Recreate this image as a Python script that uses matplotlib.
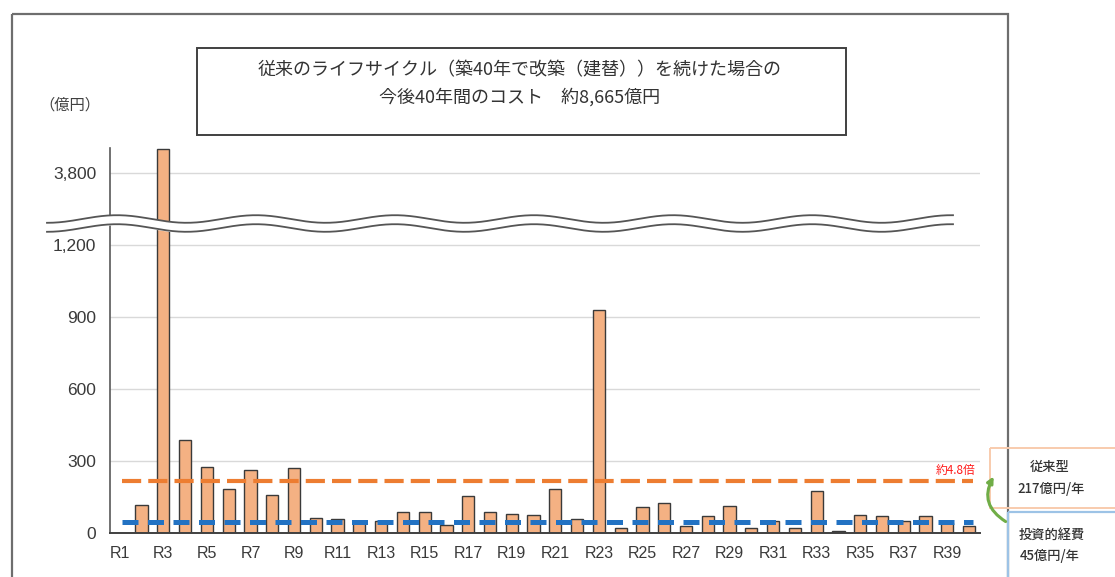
import matplotlib
matplotlib.use("Agg")
import numpy as np
import matplotlib.pyplot as plt
from matplotlib.patches import Rectangle, FancyArrowPatch

plt.rcParams['font.family'] = ['Noto Sans CJK JP', 'DejaVu Sans']

# 年度別の更新費用（億円）
years = [f"R{i}" for i in range(1, 41)]
costs = [0, 118, 3900, 388, 276, 186, 262, 161, 273, 64,
         59, 50, 50, 87, 87, 34, 157, 87, 81, 76,
         186, 60, 930, 21, 109, 126, 31, 70, 112, 21,
         50, 21, 178, 11, 76, 70, 50, 70, 42, 31]
avg_conventional = 217   # 従来型 億円/年
avg_investment = 45      # 投資的経費 億円/年

tick_values = [0, 300, 600, 900, 1200, 3800]
tick_labels = ["0", "300", "600", "900", "1,200", "3,800"]

BREAK_LO, BREAK_HI = 1300, 3600   # 省略区間


def squash(v):
    # 省略区間より上は区間の幅だけ下へずらす
    v = np.asarray(v, dtype=float)
    return np.where(v > BREAK_LO, v - (BREAK_HI - BREAK_LO), v)


W, H = 1115, 577
fig = plt.figure(figsize=(W / 100, H / 100), dpi=100)

ax = fig.add_axes([110 / W, 1 - 533.3 / H, 870 / W, (533.3 - 148) / H])
x = np.arange(len(years))
ax.bar(x, squash(costs), width=0.56, color="#f4b183",
       edgecolor="#3a3a3a", linewidth=1.0, zorder=2)

ax.hlines(avg_conventional, 0.1, 39.2, color="#ed7d31", linewidth=3,
          linestyles=(0, (4.6, 1.7)), zorder=3)
ax.hlines(avg_investment, 0.1, 39.2, color="#2272c3", linewidth=3.6,
          linestyles=(0, (3.2, 1.9)), zorder=3)

ax.set_xlim(-0.45, 39.5)
ax.set_ylim(0, 1604)
ax.set_yticks(squash(tick_values))
ax.set_yticklabels(tick_labels)
ax.set_xticks(x[::2])
ax.set_xticklabels(years[::2])
ax.tick_params(axis="both", length=0, colors="#3a3a3a", labelsize=11.5)
ax.tick_params(axis="y", pad=10, labelsize=12.5)
ax.tick_params(axis="x", pad=9)
for t in ax.get_yticklabels() + ax.get_xticklabels():
    t.set_family(['Liberation Sans', 'DejaVu Sans'])
ax.yaxis.grid(True, color="#d9d9d9", linewidth=1)
ax.set_axisbelow(True)
for side in ("top", "right"):
    ax.spines[side].set_visible(False)
ax.spines["left"].set_color("#595959")
ax.spines["left"].set_linewidth(1.2)
ax.spines["bottom"].set_color("#404040")
ax.spines["bottom"].set_linewidth(1.4)

# 図全体の注記はピクセル座標のオーバーレイに描く
ov = fig.add_axes([0, 0, 1, 1], zorder=5)
ov.set_xlim(0, W)
ov.set_ylim(H, 0)
ov.axis("off")

# 外枠
ov.add_patch(Rectangle((12, 14), 996, 620, fill=False,
                       edgecolor="#6e6e6e", linewidth=1.6))

# 省略記号（波線）
wx = np.linspace(47, 953, 600)
wave = 3.8 * np.cos(2 * np.pi * (wx - 117) / 139)
upper = 219 - wave
lower = 228 - wave
ov.fill_between(wx, upper, lower, color="white", zorder=1)
ov.plot(wx, upper, color="#555555", linewidth=1.3, zorder=2)
ov.plot(wx, lower, color="#555555", linewidth=1.3, zorder=2)

# タイトル枠
ov.add_patch(Rectangle((197, 48), 649, 87, fill=False,
                       edgecolor="#404040", linewidth=1.4))
ov.text(520, 70, "従来のライフサイクル（築40年で改築（建替））を続けた場合の",
        ha="center", va="center", fontsize=13, color="#333333")
ov.text(520, 97, "今後40年間のコスト　約8,665億円",
        ha="center", va="center", fontsize=13, color="#333333")

ov.text(70, 105, "（億円）", ha="center", va="center",
        fontsize=11, color="#404040")

# 右側の凡例枠
ov.add_patch(Rectangle((990, 448), 140, 60, fill=False,
                       edgecolor="#f8cbad", linewidth=1.4))
ov.add_patch(Rectangle((1008, 512), 130, 80, fill=False,
                       edgecolor="#9dc3e6", linewidth=1.6))
ov.text(1050, 467, "従来型", ha="center", va="center",
        fontsize=9.5, color="#333333", fontweight="medium")
ov.text(1051, 489, "217億円/年", ha="center", va="center",
        fontsize=9.5, color="#333333", fontweight="medium")
ov.text(1052, 535, "投資的経費", ha="center", va="center",
        fontsize=9.5, color="#333333", fontweight="medium")
ov.text(1050, 556, "45億円/年", ha="center", va="center",
        fontsize=9.5, color="#333333", fontweight="medium")

ov.text(956, 470, "約4.8倍", ha="center", va="center",
        fontsize=8.5, color="#ff1a1a")

ov.add_patch(FancyArrowPatch((1008, 523), (995, 474),
                             connectionstyle="arc3,rad=-0.5",
                             arrowstyle="-|>", mutation_scale=9,
                             color="#70ad47", linewidth=2.2))

fig.savefig("out.png", dpi=100)
